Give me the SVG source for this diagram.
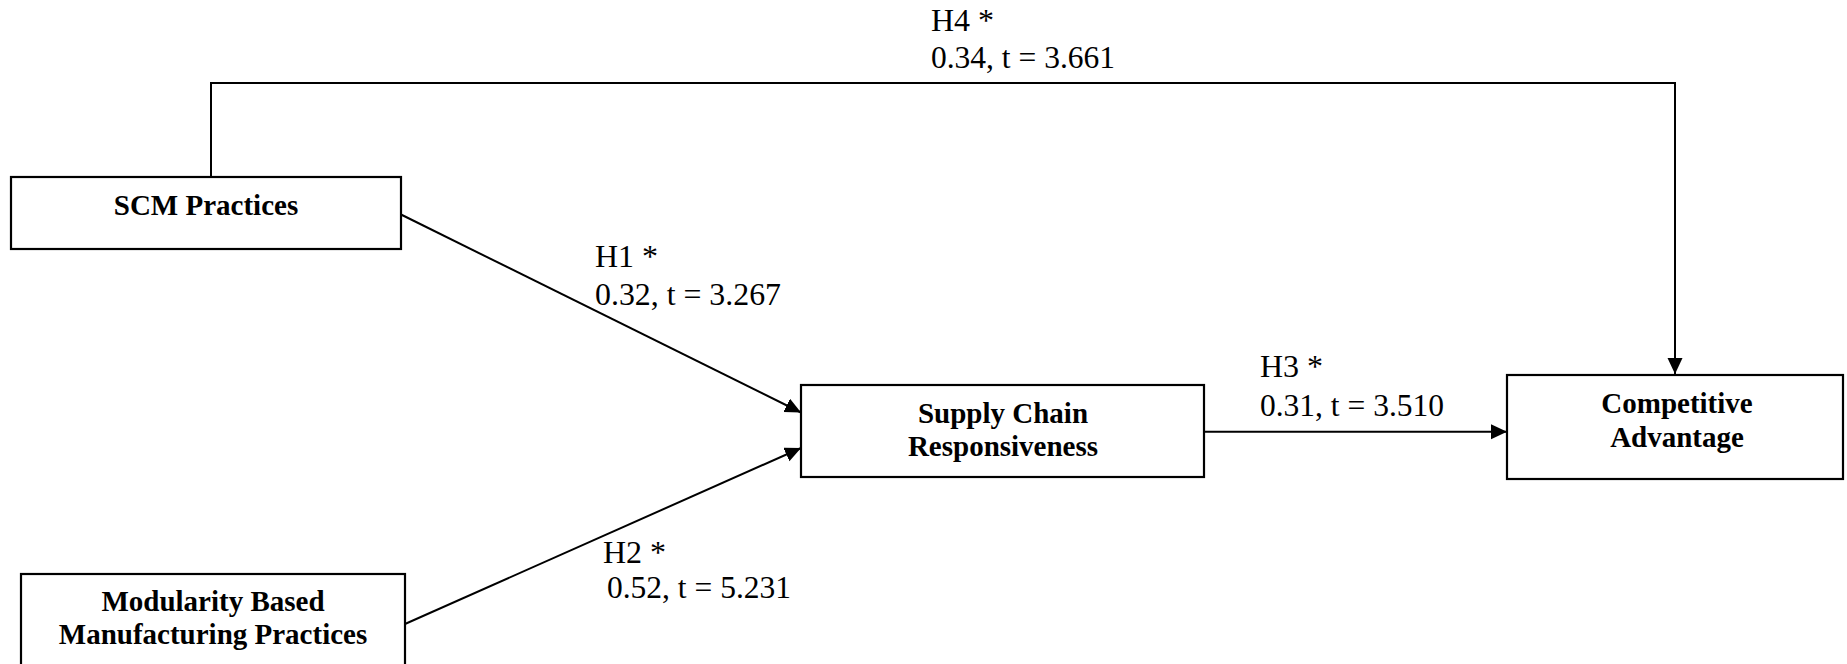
<svg xmlns="http://www.w3.org/2000/svg" width="1847" height="664" viewBox="0 0 1847 664">
  <style>
    .box { fill: #ffffff; stroke: #000000; stroke-width: 2.2; }
    .name { font-family: "Liberation Serif", "Times New Roman", serif; font-weight: bold; font-size: 29px; fill: #000000; text-anchor: middle; }
    .edge { fill: none; stroke: #000000; stroke-width: 2; }
    .lbl { font-family: "Liberation Serif", "Times New Roman", serif; font-size: 32px; fill: #000000; }
  </style>
  <defs>
    <marker id="arrow" markerUnits="userSpaceOnUse" markerWidth="17" markerHeight="16" refX="16" refY="7.5" orient="auto">
      <path d="M0,0 L16,7.5 L0,15 Z" fill="#000000"/>
    </marker>
  </defs>
  <rect width="1847" height="664" fill="#ffffff"/>

  <!-- connectors -->
  <g id="connectors">
    <path id="e-h4" class="edge" d="M211,177 V83 H1675 V374" marker-end="url(#arrow)"/>
    <path id="e-h1" class="edge" d="M401,214.5 L801,412.5" marker-end="url(#arrow)"/>
    <path id="e-h2" class="edge" d="M405,624 L801,448" marker-end="url(#arrow)"/>
    <path id="e-h3" class="edge" d="M1204,431.7 L1507,431.7" marker-end="url(#arrow)"/>
  </g>

  <!-- path coefficient labels -->
  <g id="labels">
    <g id="l-h4">
      <text class="lbl" x="931" y="31">H4 *</text>
      <text class="lbl" x="931" y="68" textLength="184" lengthAdjust="spacingAndGlyphs">0.34, t = 3.661</text>
    </g>
    <g id="l-h1">
      <text class="lbl" x="595" y="267">H1 *</text>
      <text class="lbl" x="595" y="305" textLength="186" lengthAdjust="spacingAndGlyphs">0.32, t = 3.267</text>
    </g>
    <g id="l-h2">
      <text class="lbl" x="603" y="563">H2 *</text>
      <text class="lbl" x="607" y="598" textLength="184" lengthAdjust="spacingAndGlyphs">0.52, t = 5.231</text>
    </g>
    <g id="l-h3">
      <text class="lbl" x="1260" y="377">H3 *</text>
      <text class="lbl" x="1260" y="416" textLength="184" lengthAdjust="spacingAndGlyphs">0.31, t = 3.510</text>
    </g>
  </g>

  <!-- constructs -->
  <g id="scm">
    <rect class="box" x="11" y="177" width="390" height="72"/>
    <text class="name" x="206" y="215">SCM Practices</text>
  </g>
  <g id="mbmp">
    <rect class="box" x="21" y="574" width="384" height="120"/>
    <text class="name" x="213" y="611">Modularity Based</text>
    <text class="name" x="213" y="644">Manufacturing Practices</text>
  </g>
  <g id="scr">
    <rect class="box" x="801" y="385" width="403" height="92"/>
    <text class="name" x="1003" y="423">Supply Chain</text>
    <text class="name" x="1003" y="456">Responsiveness</text>
  </g>
  <g id="ca">
    <rect class="box" x="1507" y="375" width="336" height="104"/>
    <text class="name" x="1677" y="413">Competitive</text>
    <text class="name" x="1677" y="447">Advantage</text>
  </g>
</svg>
